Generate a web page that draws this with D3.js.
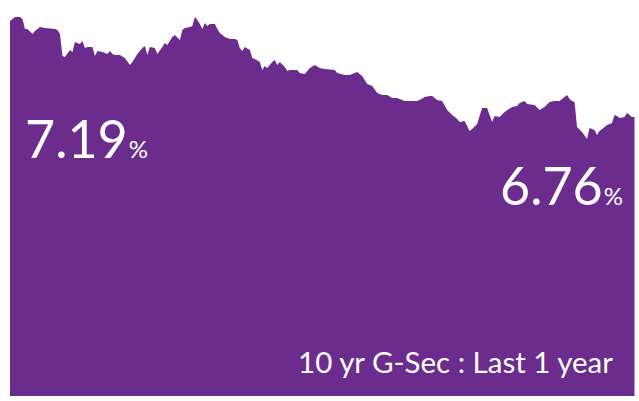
<!DOCTYPE html>
<html><head><meta charset="utf-8">
<script src="https://cdn.jsdelivr.net/npm/d3@7"></script>
<style>html,body{margin:0;padding:0;background:#fff;}svg{display:block;}</style>
</head><body>
<svg id="c" width="639" height="401"></svg>
<script>
// trading-day index over the last year
const days = [0,2,4,5,6,7,9,10,12,14,18,19,20,21,22,24,25,26,28,29,30,31,33,34,35,37,39,40,41,42,44,46,48,49,51,53,54,55,56,58,59,61,62,63,65,66,68,69,70,72,73,74,75,76,77,78,79,80,82,83,84,86,88,90,91,92,93,94,96,97,98,100,101,102,103,105,106,107,108,110,111,112,115,116,118,120,122,124,126,130,131,134,136,138,139,141,143,145,147,149,151,153,155,158,160,163,164,166,168,169,171,173,175,177,179,180,182,184,185,187,189,191,192,193,194,196,198,201,203,204,206,207,210,212,214,216,218,220,223,224,225,226,227,229,231,232,234,235,236,239,241,242,243,244,246,247,248,249,250];
// 10 yr G-Sec yield (%)
const yields = [7.190,7.208,7.208,7.199,7.154,7.154,7.132,7.145,7.163,7.159,7.154,7.150,7.132,7.033,7.029,7.060,7.051,7.096,7.087,7.100,7.069,7.073,7.073,7.033,7.056,7.051,7.042,7.056,7.042,7.038,7.038,7.024,6.993,7.006,7.042,7.069,7.078,7.038,7.073,7.069,7.042,7.073,7.091,7.082,7.118,7.127,7.105,7.150,7.159,7.163,7.168,7.208,7.194,7.177,7.154,7.181,7.168,7.177,7.177,7.154,7.136,7.118,7.109,7.109,7.105,7.069,7.056,7.073,7.060,7.024,7.020,7.006,6.970,6.988,6.979,7.006,7.015,6.993,7.006,6.984,6.966,6.970,6.970,6.957,6.952,6.979,6.993,6.979,6.975,6.970,6.957,6.948,6.948,6.957,6.961,6.944,6.908,6.899,6.867,6.858,6.858,6.845,6.845,6.832,6.832,6.832,6.836,6.849,6.854,6.854,6.836,6.832,6.791,6.769,6.751,6.738,6.742,6.697,6.706,6.729,6.800,6.800,6.769,6.738,6.764,6.760,6.782,6.805,6.809,6.823,6.832,6.818,6.814,6.791,6.805,6.827,6.832,6.832,6.858,6.841,6.832,6.827,6.715,6.693,6.661,6.711,6.702,6.679,6.697,6.724,6.733,6.769,6.764,6.755,6.760,6.778,6.769,6.760,6.760];
const startLabel = "7.19";
const endLabel = "6.76";
const caption = "10 yr G-Sec : Last 1 year";

const data = days.map((d,i)=>({d, v: yields[i]}));
const svg = d3.select("#c");
const x = d3.scaleLinear().domain([0,250]).range([10,634.5]);
const y = d3.scaleLinear().domain([5.510,7.284]).range([396,0]);
const purple = "#6b2c8e";

svg.append("path").datum(data)
  .attr("fill", purple)
  .attr("d", d3.area().x(p=>x(p.d)).y0(y(5.510)).y1(p=>y(p.v)));

const font = "Lato, 'Open Sans', sans-serif";
function label(txt, xx, yy, anchor){
  const t = svg.append("text").attr("x",xx).attr("y",yy).attr("text-anchor",anchor)
    .attr("fill","#fff").style("font-family",font);
  t.append("tspan").attr("font-size",52).text(txt);
  t.append("tspan").attr("font-size",24).attr("dx",1).text("%");
}
label(startLabel, 25, 158, "start");
label(endLabel, 623, 205, "end");

svg.append("text").attr("x",613).attr("y",373).attr("text-anchor","end")
  .attr("fill","#fff").style("font-family",font).attr("font-size",29.5).text(caption);
</script>
</body></html>
